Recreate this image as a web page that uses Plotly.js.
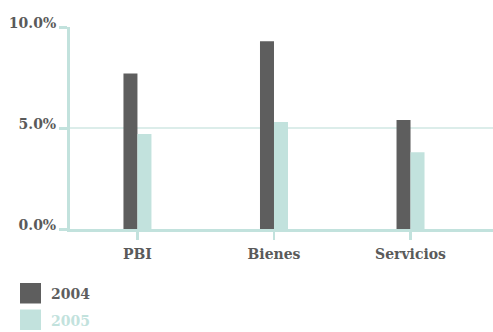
<!DOCTYPE html>
<html>
<head>
<meta charset="utf-8">
<script src="https://cdn.plot.ly/plotly-3.0.1.min.js"></script>
<style>
  html, body { margin: 0; padding: 0; background: #ffffff; }
  #chart { width: 493px; height: 332px; }
</style>
</head>
<body>
<div id="chart"></div>
<script>
// Growth rates by component, two years
const categories = ['PBI', 'Bienes', 'Servicios'];
const seriesNames = ['2004', '2005'];
const values2004 = [7.7, 9.3, 5.4];
const values2005 = [4.7, 5.3, 3.8];
const yTickValues = [0, 5, 10];
const yTickLabels = ['0.0%', '5.0%', '10.0%'];

const DARK = '#5e5e5e';
const TEAL = '#c2e2dd';
const TEXT = '#5a5a5a';
const FONT = 'DejaVu Serif, serif';

const W = 493, H = 332;
const M = { l: 70, r: 0, t: 27, b: 103 };
const plotW = W - M.l - M.r;
const plotH = H - M.t - M.b;
// pixel -> paper coordinate helpers for the legend block
const px = x => (x - M.l) / plotW;
const py = y => (H - M.b - y) / plotH;
const bold = s => '<b>' + s + '</b>';

const traces = [
  { type: 'bar', name: seriesNames[0], x: categories, y: values2004,
    marker: { color: DARK }, hoverinfo: 'none' },
  { type: 'bar', name: seriesNames[1], x: categories, y: values2005,
    marker: { color: TEAL }, hoverinfo: 'none' }
];

// Custom legend: big square swatches with coloured labels
const swatchColors = [DARK, TEAL];
const shapes = [];
const annotations = [];
seriesNames.forEach((name, i) => {
  const top = 283 + i * 26.5;
  shapes.push({
    type: 'rect', xref: 'paper', yref: 'paper', layer: 'above',
    x0: px(20), x1: px(41), y0: py(top), y1: py(top + 20.5),
    fillcolor: swatchColors[i], line: { width: 0 }
  });
  annotations.push({
    xref: 'paper', yref: 'paper', showarrow: false,
    x: px(49), y: py(top + 11), xanchor: 'left', yanchor: 'middle',
    text: bold(name),
    font: { family: FONT, size: 14, color: swatchColors[i] }
  });
});

const layout = {
  width: W, height: H,
  margin: M,
  paper_bgcolor: '#ffffff',
  plot_bgcolor: '#ffffff',
  barmode: 'group',
  bargap: 0.795,
  bargroupgap: 0,
  showlegend: false,
  font: { family: FONT, size: 14, color: TEXT },
  xaxis: {
    type: 'category',
    range: [-0.494, 2.604],
    tickmode: 'array',
    tickvals: categories,
    ticktext: categories.map(bold),
    showline: true, linecolor: TEAL, linewidth: 3,
    ticks: 'outside', ticklen: 8, tickwidth: 2.5, tickcolor: TEAL,
    ticklabelstandoff: 2,
    showgrid: false, zeroline: false,
    tickfont: { family: FONT, size: 14, color: TEXT }
  },
  yaxis: {
    range: [0, 10],
    tickmode: 'array',
    tickvals: yTickValues,
    ticktext: yTickLabels.map(bold),
    showline: true, linecolor: TEAL, linewidth: 3,
    ticks: 'outside', ticklen: 8, tickwidth: 3, tickcolor: TEAL,
    ticklabelshift: -4,
    showgrid: true, gridcolor: '#dcedea', gridwidth: 1.5,
    zeroline: false,
    tickfont: { family: FONT, size: 14, color: TEXT }
  },
  shapes: shapes,
  annotations: annotations
};

Plotly.newPlot('chart', traces, layout, { staticPlot: true, displayModeBar: false });
</script>
</body>
</html>
